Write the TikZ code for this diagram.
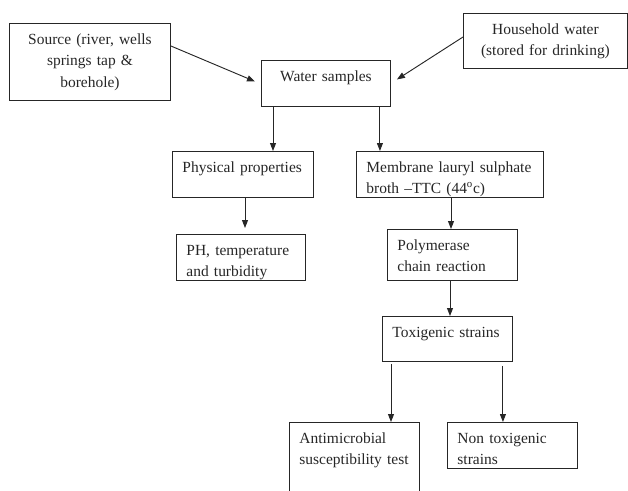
\documentclass[tikz,border=0pt]{standalone}
\usepackage{fontspec}
\setmainfont{Liberation Serif}
\usetikzlibrary{arrows.meta,calc}

\begin{document}
\begin{tikzpicture}[x=0.75pt, y=-0.75pt, black!85, line width=0.7pt, >={Triangle[length=6pt, width=4.5pt]}]
		\tikzstyle{every node}=[font=\fontsize{11.6}{16.1}\selectfont]
		\tikzstyle{stage}=[draw, anchor=north west, inner xsep=7.5pt, inner ysep=7.5pt, text height=8pt, align=left]
		\useasboundingbox (0,0) rectangle (628,490);
			\node[stage, align=center, text width=105.75pt, text depth=34.75pt] (source) at (9, 23) {Source (river, wells\\springs tap \&\\borehole)};
			\node[stage, align=center, text width=108pt, text depth=18.25pt] (house) at (463, 13) {Household water\\(stored for drinking)};
			\node[stage, align=center, text width=81.75pt, text depth=11.5pt] (water) at (261, 60) {Water samples};
			\node[stage, text width=90.75pt, text depth=11.5pt] (phys) at (172, 151) {Physical properties};
			\node[stage, text width=125.25pt, text depth=11.5pt] (memb) at (356, 151) {Membrane lauryl sulphate\\broth \textendash TTC (44\textsuperscript{o}c)};
			\node[stage, text width=81.75pt, text depth=11.5pt] (ph) at (176, 234) {PH, temperature\\and turbidity};
			\node[stage, text width=82.5pt, text depth=15.25pt] (poly) at (387, 229) {Polymerase\\chain reaction};
			\node[stage, text width=82.5pt, text depth=10.75pt] (tox) at (382, 316) {Toxigenic strains};
			\node[stage, text width=82.5pt, text depth=37pt] (anti) at (289, 422) {Antimicrobial\\susceptibility test};
			\node[stage, text width=82.5pt, text depth=11.5pt] (nontox) at (447, 422) {Non toxigenic\\strains};
	
			\draw[->] ($(source.north east)+(0,23)$) -- ($(water.west)+(-6,-2)$);
			\draw[->] ($(house.north west)+(0,24)$) -- ($(water.east)+(6,-4)$);
			\draw[->] ($(water.south west)+(12,0)$) coordinate (w1) -- (w1 |- phys.north);
			\draw[->] ($(water.south east)+(-11,0)$) coordinate (w2) -- (w2 |- memb.north);
			\draw[->, shorten >=4.5pt] ($(phys.south west)+(73,0)$) coordinate (p1) -- (p1 |- ph.north);
			\draw[->] ($(memb.south west)+(95,0)$) coordinate (m1) -- (m1 |- poly.north);
			\draw[->] ($(poly.south west)+(63,0)$) coordinate (c1) -- (c1 |- tox.north);
			\draw[->, shorten <=1.5pt] ($(tox.south west)+(9,0)$) coordinate (t1) -- (t1 |- anti.north);
			\draw[->, shorten <=3pt] ($(tox.south east)+(-10,0)$) coordinate (t2) -- (t2 |- nontox.north);
\end{tikzpicture}
\end{document}
